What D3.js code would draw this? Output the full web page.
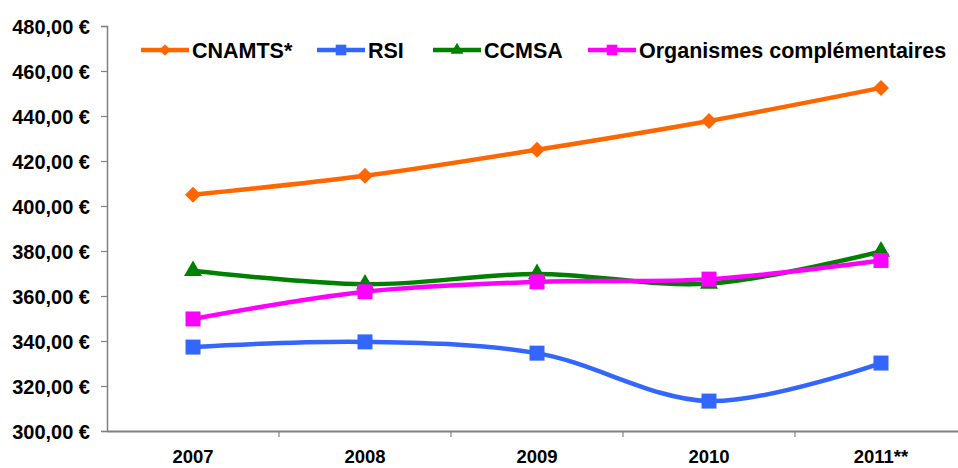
<!DOCTYPE html>
<html><head><meta charset="utf-8">
<script src="https://cdn.jsdelivr.net/npm/d3@7"></script>
<style>body{margin:0;background:#fff}svg{display:block}text{font-family:"Liberation Sans",Arial,sans-serif;font-weight:bold;fill:#000}</style>
</head><body><svg id="c" width="958" height="468"></svg>
<script>
const years = ["2007","2008","2009","2010","2011**"];
const cnamts = [405.0, 413.4, 425.0, 437.8, 452.5];
const rsi = [337.3, 339.6, 334.6, 313.3, 330.2];
const ccmsa = [371.2, 365.2, 369.8, 365.5, 379.8];
const orgs = [349.8, 361.9, 366.3, 367.5, 375.8];
const seriesNames = ["CNAMTS*","RSI","CCMSA","Organismes complémentaires"];
const yTicks = [300,320,340,360,380,400,420,440,460,480];

(function(){
const diamond = { draw(ctx, size) { const r = Math.sqrt(size / 2); ctx.moveTo(0, -r); ctx.lineTo(r, 0); ctx.lineTo(0, r); ctx.lineTo(-r, 0); ctx.closePath(); } };
const series = [
  {name: seriesNames[0], values: cnamts, color: "#FF6600", sym: diamond, size: 128},
  {name: seriesNames[1], values: rsi, color: "#3366FF", sym: d3.symbolSquare, size: 225},
  {name: seriesNames[2], values: ccmsa, color: "#008000", sym: d3.symbolTriangle, size: 140},
  {name: seriesNames[3], values: orgs, color: "#FF00FF", sym: d3.symbolSquare, size: 225}
];

const svg = d3.select("#c");
const mLeft = 107, mRight = 967, mTop = 26, mBottom = 431;
const x = d3.scaleBand().domain(years).range([mLeft, mRight]);
const y = d3.scaleLinear().domain([300,480]).range([mBottom, mTop]);

const ya = svg.append("g").attr("transform", `translate(${mLeft},0)`)
  .call(d3.axisLeft(y).tickValues(yTicks).tickSize(6).tickPadding(11)
    .tickFormat(d => d3.format(".2f")(d).replace(".", ",") + " €"));
ya.select(".domain").attr("stroke", "#808080").attr("stroke-width", 1.5);
ya.selectAll(".tick line").attr("stroke", "#808080").attr("stroke-width", 1.2);
ya.selectAll("text").style("font-size", "20px").attr("dy", "0.35em");

const xa = svg.append("g").attr("transform", `translate(0,${mBottom})`)
  .call(d3.axisBottom(x).tickSize(0).tickPadding(19));
xa.select(".domain").attr("stroke", "#808080").attr("stroke-width", 2);
xa.selectAll("text").style("font-size", "18.5px");
const bounds = years.slice(1).map(d => x(d));
svg.append("g").selectAll("line").data(bounds).join("line")
  .attr("x1", d => d).attr("x2", d => d).attr("y1", mBottom).attr("y2", mBottom + 6)
  .attr("stroke", "#808080").attr("stroke-width", 1.2);

const cx = d => x(d) + x.bandwidth() / 2;
const line = d3.line().x((d, i) => cx(years[i])).y(d => y(d)).curve(d3.curveCatmullRom.alpha(0.5));

series.forEach(s => {
  svg.append("path").datum(s.values).attr("d", line)
    .attr("fill", "none").attr("stroke", s.color).attr("stroke-width", 4.5);
});
series.forEach(s => {
  svg.append("g").selectAll("path").data(s.values).join("path")
    .attr("d", d3.symbol().type(s.sym).size(s.size))
    .attr("transform", (d, i) => `translate(${cx(years[i])},${y(d)})`)
    .attr("fill", s.color);
});

const legX = [141, 317, 433, 588];
const lg = svg.append("g");
series.forEach((s, i) => {
  const g = lg.append("g").attr("transform", `translate(${legX[i]},50)`);
  g.append("line").attr("x1", 0).attr("x2", 48).attr("stroke", s.color).attr("stroke-width", 4.5);
  g.append("path").attr("d", d3.symbol().type(s.sym).size(s.size * 0.5)).attr("transform", "translate(24,0)").attr("fill", s.color);
  g.append("text").attr("x", 51).attr("dy", "0.36em").style("font-size", "21.5px").text(s.name);
});
})();
</script></body></html>
